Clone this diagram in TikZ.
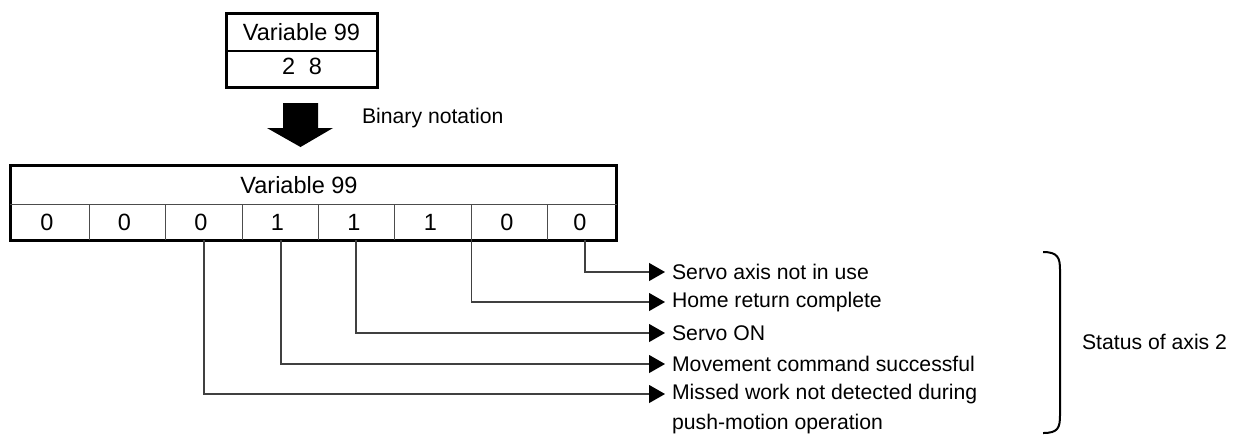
\documentclass[tikz,border=0pt]{standalone}
\usepackage{fontspec}
\setmainfont{Liberation Sans}
\usetikzlibrary{arrows.meta}

\tikzset{
  frame/.style={line width=1.5pt},
  thin line/.style={line width=0.5pt, black!70},
  lead/.style={line width=0.6pt, black!75, -{Triangle[length=8pt,width=9pt,color=black]}},
  lbl/.style={anchor=west, font=\fontsize{10.6}{12}\selectfont},
  big/.style={font=\fontsize{11.75}{14}\selectfont},
}

\begin{document}
\begin{tikzpicture}[x=0.5pt,y=-0.5pt]
        \useasboundingbox (0,0) rectangle (1234,436);

        % Decimal value
        \draw[frame] (226,13) rectangle (377,87);
        \draw[line width=0.7pt] (226,51) -- (377,51);
        \node[big] (vtop) at (301.5,32) {Variable 99};
        \node[big] (dec) at (302,66) {2\hspace{0.3em} 8};

        % Conversion arrow
        \fill (283,103) -- (318,103) -- (318,128) -- (333,128) -- (300.5,147)
              -- (267,128) -- (283,128) -- cycle;
        \node[lbl] (bin) at (355,118) {Binary notation};

        % Bit table
        \draw[frame] (10,165) rectangle (616.7,240);
        \draw[thin line] (10,204) -- (616.7,204);
        \foreach \x in {89.3,165.7,242.1,318.5,394.9,471.3,547.7}
            \draw[thin line] (\x,204) -- (\x,240);
        \node[big] (vbot) at (299,185) {Variable 99};
        \foreach \x/\v/\n in {47/0/7,124.5/0/6,201/0/5,277.5/1/4,354/1/3,430.5/1/2,507/0/1,580/0/0}
            \node[big] (b\n) at (\x,222) {\v};

        % Bit meanings
        \node[lbl] (s0) at (665,272) {Servo axis not in use};
        \node[lbl] (s1) at (665,302) {Home return complete};
        \node[lbl] (s2) at (665,333) {Servo ON};
        \node[lbl] (s3) at (665,364) {Movement command successful};
        \node[lbl] (s4) at (665,394) {Missed work not detected during};
        \node[lbl, anchor=base west] (s4b) at ([yshift=-15pt]s4.base west) {push-motion operation};

        \coordinate (t0) at (585,240);
        \coordinate (t1) at (471.3,240);
        \coordinate (t2) at (356,240);
        \coordinate (t3) at (281,240);
        \coordinate (t4) at (204,240);
        \draw[lead] (t0) |- (s0.west);
        \draw[lead] (t1) |- (s1.west);
        \draw[lead] (t2) |- (s2.west);
        \draw[lead] (t3) |- (s3.west);
        \draw[lead] (t4) |- (s4.west);

        % Group brace
        \draw[line width=1pt] (1043,252) .. controls (1058,252) and (1060,258) .. (1060,270)
              -- (1060,415) .. controls (1060,428) and (1058,433) .. (1043,433);
        \node[lbl] (st) at (1075,342) {Status of axis 2};
\end{tikzpicture}
\end{document}
